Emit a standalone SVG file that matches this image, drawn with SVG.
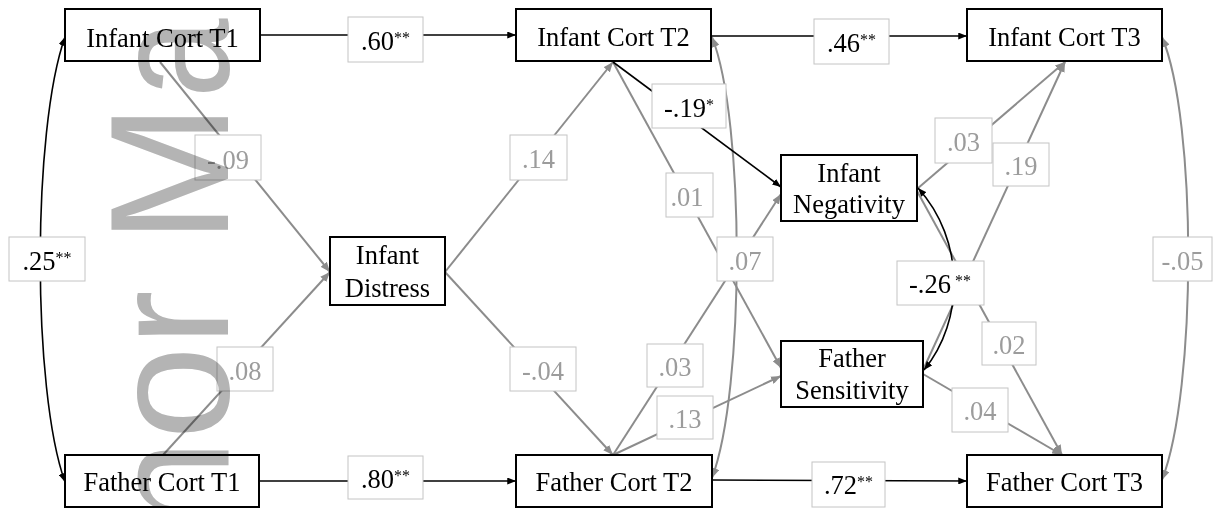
<svg xmlns="http://www.w3.org/2000/svg" width="1215" height="508" viewBox="0 0 1215 508">
<defs>
<style>
.node rect{fill:none;stroke:#000;stroke-width:2}
.node text{font-family:"Liberation Serif","Times New Roman",serif;font-size:26.5px;fill:#000;text-anchor:middle}
.lab rect{fill:#fff;stroke:#c4c4c4;stroke-width:1}
.lab text{font-family:"Liberation Serif","Times New Roman",serif;font-size:26.5px;text-anchor:middle}
.lab .sig{fill:#000}
.lab .ns{fill:#9c9c9c}
.sup{font-size:16px}
.lb{stroke:#000;stroke-width:1.6;fill:none}
.lg{stroke:#8c8c8c;stroke-width:2;fill:none}
.wm{font-family:"Liberation Sans",Arial,sans-serif;font-size:168px;fill:#b4b4b4;mix-blend-mode:multiply}
</style>
<marker id="ab" viewBox="0 0 10 8" refX="10" refY="4" markerWidth="9" markerHeight="7" markerUnits="userSpaceOnUse" orient="auto-start-reverse"><path d="M0,0 L10,4 L0,8 z" fill="#000"/></marker>
<marker id="ag" viewBox="0 0 10 8" refX="10" refY="4" markerWidth="10" markerHeight="8" markerUnits="userSpaceOnUse" orient="auto-start-reverse"><path d="M0,0 L10,4 L0,8 z" fill="#8c8c8c"/></marker>
</defs>
<rect x="0" y="0" width="1215" height="508" fill="#fff"/>

<g id="connectors">
  <!-- gray paths -->
  <path class="lg" d="M160,62 L330,272" marker-end="url(#ag)"/>
  <path class="lg" d="M163,455 L330,272" marker-end="url(#ag)"/>
  <path class="lg" d="M445,272 L613,62" marker-end="url(#ag)"/>
  <path class="lg" d="M445,272 L613,455" marker-end="url(#ag)"/>
  <path class="lg" d="M613,62 L781,368" marker-end="url(#ag)"/>
  <path class="lg" d="M613,455 L781,194" marker-end="url(#ag)"/>
  <path class="lg" d="M613,455 L781,376" marker-end="url(#ag)"/>
  <path class="lg" d="M712,37 C745,120 745,390 712,478" marker-start="url(#ag)" marker-end="url(#ag)"/>
  <path class="lg" d="M917,189 L1065,62" marker-end="url(#ag)"/>
  <path class="lg" d="M923,370 L1065,62" marker-end="url(#ag)"/>
  <path class="lg" d="M917,191 L1062,455" marker-end="url(#ag)"/>
  <path class="lg" d="M923,374 L1062,455" marker-end="url(#ag)"/>
  <path class="lg" d="M1162,37 C1197,120 1197,390 1162,480" marker-start="url(#ag)" marker-end="url(#ag)"/>
  <!-- black paths -->
  <path class="lb" d="M260,35 H516" marker-end="url(#ab)"/>
  <path class="lb" d="M711,36 H967" marker-end="url(#ab)"/>
  <path class="lb" d="M259,481 H516" marker-end="url(#ab)"/>
  <path class="lb" d="M712,480 L967,481" marker-end="url(#ab)"/>
  <path class="lb" d="M65,37 C32,130 32,390 65,482" marker-start="url(#ab)" marker-end="url(#ab)"/>
  <path class="lb" d="M613,62 L781,187" marker-end="url(#ab)"/>
  <path class="lb" d="M918,188 C965,240 965,320 924,370" marker-start="url(#ab)" marker-end="url(#ab)"/>

  <!-- labels -->
  <g class="lab"><rect x="348" y="17" width="75" height="45"/><text class="sig" x="385.5" y="50">.60<tspan class="sup" dy="-7">**</tspan></text></g>
  <g class="lab"><rect x="814" y="19" width="75" height="45"/><text class="sig" x="851.5" y="52">.46<tspan class="sup" dy="-7">**</tspan></text></g>
  <g class="lab"><rect x="348" y="456" width="75" height="43"/><text class="sig" x="385.5" y="488">.80<tspan class="sup" dy="-7">**</tspan></text></g>
  <g class="lab"><rect x="812" y="462" width="73" height="45"/><text class="sig" x="848.5" y="494">.72<tspan class="sup" dy="-7">**</tspan></text></g>
  <g class="lab"><rect x="9" y="237" width="76" height="44"/><text class="sig" x="47" y="270">.25<tspan class="sup" dy="-7">**</tspan></text></g>
  <g class="lab"><rect x="195" y="135" width="66" height="45"/><text class="ns" x="228" y="169">-.09</text></g>
  <g class="lab"><rect x="217" y="347" width="56" height="44"/><text class="ns" x="245" y="380">.08</text></g>
  <g class="lab"><rect x="510" y="135" width="57" height="45"/><text class="ns" x="538.5" y="168">.14</text></g>
  <g class="lab"><rect x="652" y="84" width="74" height="44"/><text class="sig" x="689" y="117">-.19<tspan class="sup" dy="-7">*</tspan></text></g>
  <g class="lab"><rect x="666" y="173" width="47" height="44"/><text class="ns" x="687" y="206">.01</text></g>
  <g class="lab"><rect x="717" y="237" width="56" height="44"/><text class="ns" x="745" y="270">.07</text></g>
  <g class="lab"><rect x="510" y="347" width="66" height="44"/><text class="ns" x="543" y="380">-.04</text></g>
  <g class="lab"><rect x="647" y="344" width="56" height="43"/><text class="ns" x="675" y="376">.03</text></g>
  <g class="lab"><rect x="657" y="396" width="56" height="43"/><text class="ns" x="685" y="428">.13</text></g>
  <g class="lab"><rect x="935" y="118" width="57" height="45"/><text class="ns" x="963.5" y="151">.03</text></g>
  <g class="lab"><rect x="993" y="143" width="56" height="43"/><text class="ns" x="1021" y="175">.19</text></g>
  <g class="lab"><rect x="897" y="261" width="87" height="44"/><text class="sig" x="940" y="293">-.26<tspan class="sup" dy="-7"> **</tspan></text></g>
  <g class="lab"><rect x="982" y="322" width="54" height="43"/><text class="ns" x="1009" y="354">.02</text></g>
  <g class="lab"><rect x="952" y="388" width="56" height="44"/><text class="ns" x="980" y="420">.04</text></g>
  <g class="lab"><rect x="1153" y="237" width="59" height="44"/><text class="ns" x="1182.5" y="270">-.05</text></g>
</g>

<g id="infant-cort-t1" class="node"><rect x="65" y="9" width="195" height="52"/><text x="162.5" y="46.5">Infant Cort T1</text></g>
<g id="father-cort-t1" class="node"><rect x="65" y="455" width="194" height="52"/><text x="162" y="491">Father Cort T1</text></g>
<g id="infant-distress" class="node"><rect x="330" y="237" width="115" height="68"/><text x="387.5" y="264">Infant</text><text x="387.5" y="297">Distress</text></g>
<g id="infant-cort-t2" class="node"><rect x="516" y="9" width="195" height="52"/><text x="613.5" y="46">Infant Cort T2</text></g>
<g id="father-cort-t2" class="node"><rect x="516" y="455" width="196" height="52"/><text x="614" y="491">Father Cort T2</text></g>
<g id="infant-negativity" class="node"><rect x="781" y="155" width="136" height="66"/><text x="849" y="182">Infant</text><text x="849" y="213">Negativity</text></g>
<g id="father-sensitivity" class="node"><rect x="781" y="341" width="142" height="66"/><text x="852" y="367">Father</text><text x="852" y="399">Sensitivity</text></g>
<g id="infant-cort-t3" class="node"><rect x="967" y="9" width="195" height="52"/><text x="1064.5" y="46">Infant Cort T3</text></g>
<g id="father-cort-t3" class="node"><rect x="967" y="455" width="195" height="52"/><text x="1064.5" y="491">Father Cort T3</text></g>

<text class="wm" transform="translate(228,533) rotate(-90)">hor M</text>
<text class="wm" transform="translate(228,98) rotate(-90) scale(0.85,1)">a</text>
</svg>
